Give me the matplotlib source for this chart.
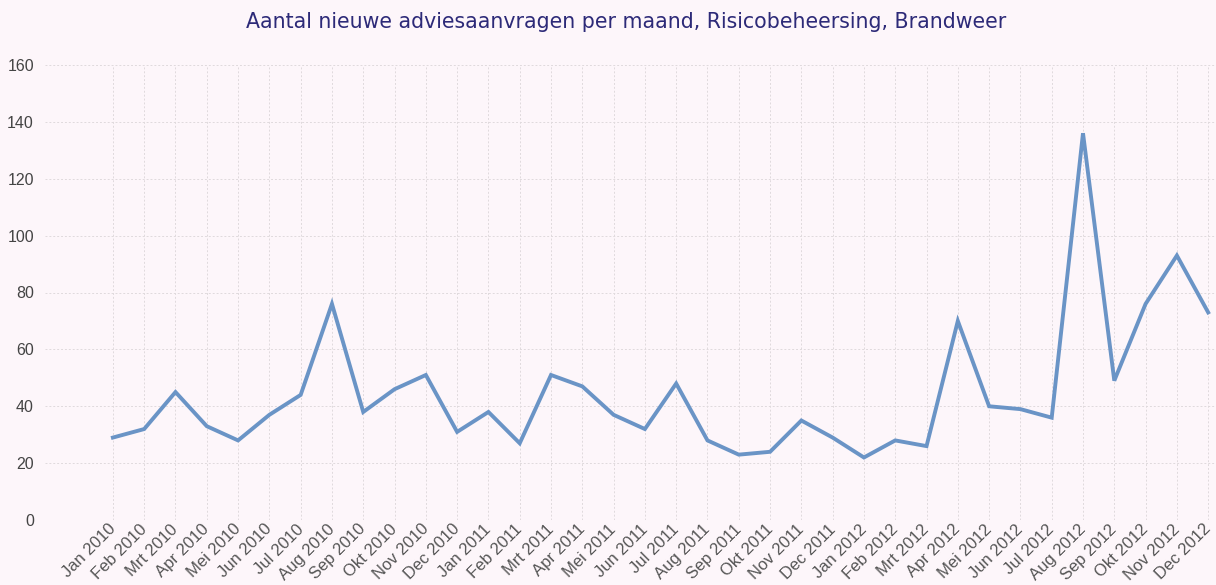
"""
Aantal nieuwe adviesaanvragen per maand, Risicobeheersing, Brandweer.
"""
import matplotlib
matplotlib.use("Agg")
import matplotlib.pyplot as plt
import matplotlib.transforms as mtransforms

months = ["Jan", "Feb", "Mrt", "Apr", "Mei", "Jun",
          "Jul", "Aug", "Sep", "Okt", "Nov", "Dec"]
years = [2010, 2011, 2012]
labels = [f"{m} {y}" for y in years for m in months]

aanvragen = [29, 32, 45, 33, 28, 37, 44, 76, 38, 46, 51, 31,
             38, 27, 51, 47, 37, 32, 48, 28, 23, 24, 35, 29,
             22, 28, 26, 70, 40, 39, 36, 136, 49, 76, 93, 73]

y_ticks = [0, 20, 40, 60, 80, 100, 120, 140, 160]

BG = "#fdf6fa"

fig = plt.figure(figsize=(12.16, 5.85), dpi=100, facecolor=BG)
ax = fig.add_axes([0.037, 0.111, 0.963, 0.778], facecolor=BG)

x = list(range(len(labels)))
ax.plot(x, aanvragen, color="#6a94c6", linewidth=2.8, solid_joinstyle="miter",
        zorder=3)

ax.set_xlim(-2.17, 35.25)
ax.set_ylim(0, 160)
ax.set_yticks(y_ticks)
ax.set_yticklabels([str(v) for v in y_ticks], fontsize=11.5, color="#444444",
                   family="Liberation Sans")
ax.set_xticks(x)
ax.set_xticklabels(labels, rotation=45, ha="right", va="top",
                   rotation_mode="anchor", fontsize=12, color="#555555",
                   family="Liberation Sans")
ax.tick_params(axis="both", length=0)
ax.tick_params(axis="y", pad=8)
ax.tick_params(axis="x", pad=1)

# nudge the slanted month labels a little to the left
shift = mtransforms.ScaledTranslation(-5 / 100, 0, fig.dpi_scale_trans)
for lbl in ax.get_xticklabels():
    lbl.set_transform(lbl.get_transform() + shift)

ax.grid(True, color="#e0dadd", linestyle=(0, (2, 2)), linewidth=0.7)
ax.set_axisbelow(True)
for s in ax.spines.values():
    s.set_visible(False)

fig.text(0.515, 0.962, "Aantal nieuwe adviesaanvragen per maand, Risicobeheersing, Brandweer",
         ha="center", va="center", fontsize=14.8, color="#2d2a78",
         family="DejaVu Sans")

fig.savefig("out.png", dpi=100, facecolor=BG)
